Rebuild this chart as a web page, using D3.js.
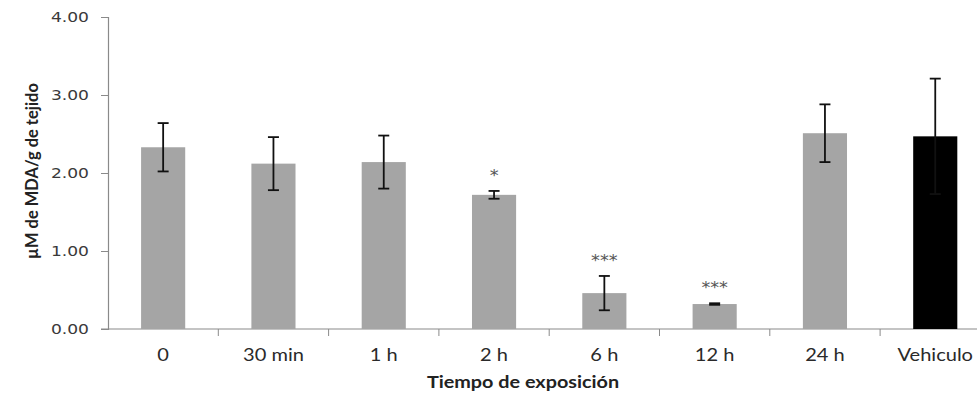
<!DOCTYPE html>
<html>
<head>
<meta charset="utf-8">
<script src="https://cdn.jsdelivr.net/npm/d3@7"></script>
<style>
  body { margin: 0; background: #fff; }
  svg { display: block; }
</style>
</head>
<body>
<div id="chart"></div>
<script>
// data
const categories = ["0", "30 min", "1 h", "2 h", "6 h", "12 h", "24 h", "Vehiculo"];
const means = [2.33, 2.12, 2.14, 1.72, 0.46, 0.32, 2.51, 2.47];
const errors = [0.31, 0.34, 0.34, 0.05, 0.22, 0.01, 0.37, 0.74];
const stars = ["", "", "", "*", "***", "***", "", ""];
const yTicks = [0, 1, 2, 3, 4];

const W = 977, H = 393;
const plotLeft = 108, plotTop = 17, plotBottom = 329;
const sx = 1.18; // the source picture is stretched sideways, so is its text

const svg = d3.select("#chart")
    .append("svg")
    .attr("width", W)
    .attr("height", H);

const x = d3.scaleBand()
    .domain(categories)
    .range([plotLeft, plotLeft + 8 * 110.3])
    .padding(0);

const y = d3.scaleLinear()
    .domain([0, 4])
    .range([plotBottom, plotTop]);

const barW = x.bandwidth() * 0.4;
const axisColor = "#8a8a8a";

function stretch(sel) {
    sel.each(function () {
        const t = d3.select(this);
        const x0 = +t.attr("x") || 0;
        t.attr("x", x0 / sx).attr("transform", `scale(${sx},1)`);
    });
}

// y axis
const yAxis = svg.append("g")
    .attr("transform", `translate(${plotLeft},0)`)
    .call(d3.axisLeft(y)
        .tickValues(yTicks)
        .tickFormat(d3.format(".2f"))
        .tickSize(7)
        .tickPadding(12));
yAxis.select(".domain").attr("stroke", axisColor).attr("stroke-width", 1.2);
yAxis.selectAll(".tick line").attr("stroke", axisColor);
yAxis.selectAll(".tick text")
    .attr("fill", "#3a3a3a")
    .style("font-family", "'DejaVu Sans', Verdana, sans-serif")
    .style("font-size", "14.5px")
    .call(stretch);

// x axis (labels at band centres, ticks at band boundaries)
const xAxis = svg.append("g")
    .attr("transform", `translate(0,${plotBottom})`)
    .call(d3.axisBottom(x).tickSize(0).tickPadding(20));
xAxis.select(".domain").remove();
xAxis.append("line")
    .attr("x1", plotLeft - 7).attr("x2", W)
    .attr("y1", 0).attr("y2", 0)
    .attr("stroke", axisColor).attr("stroke-width", 1.2);
xAxis.selectAll(".bnd")
    .data(categories.slice(1))
    .join("line")
    .attr("class", "bnd")
    .attr("x1", d => x(d)).attr("x2", d => x(d))
    .attr("y1", 0).attr("y2", 7)
    .attr("stroke", axisColor);
xAxis.selectAll(".tick text")
    .attr("fill", "#2a2a2a")
    .style("font-family", "Lato, 'Open Sans', sans-serif")
    .style("font-size", "17px")
    .call(stretch);

// bars
svg.selectAll(".bar")
    .data(categories)
    .join("rect")
    .attr("class", "bar")
    .attr("x", d => x(d) + (x.bandwidth() - barW) / 2)
    .attr("y", (d, i) => y(means[i]))
    .attr("width", barW)
    .attr("height", (d, i) => plotBottom - y(means[i]))
    .attr("fill", (d, i) => i === categories.length - 1 ? "#000" : "#a5a5a5");

// error bars
const eb = svg.selectAll(".err")
    .data(categories)
    .join("g")
    .attr("class", "err")
    .attr("stroke", "#111")
    .attr("stroke-width", 1.8);
const cx = d => x(d) + x.bandwidth() / 2;
eb.append("line")
    .attr("x1", cx).attr("x2", cx)
    .attr("y1", (d, i) => y(means[i] + errors[i]))
    .attr("y2", (d, i) => y(means[i] - errors[i]));
eb.append("line")
    .attr("x1", d => cx(d) - 5.5).attr("x2", d => cx(d) + 5.5)
    .attr("y1", (d, i) => y(means[i] + errors[i]))
    .attr("y2", (d, i) => y(means[i] + errors[i]));
eb.append("line")
    .attr("x1", d => cx(d) - 5.5).attr("x2", d => cx(d) + 5.5)
    .attr("y1", (d, i) => y(means[i] - errors[i]))
    .attr("y2", (d, i) => y(means[i] - errors[i]));

// significance stars
svg.selectAll(".star")
    .data(categories)
    .join("text")
    .attr("class", "star")
    .attr("transform", (d, i) => `translate(${cx(d)},${y(means[i] + errors[i]) - 10}) scale(${sx},1)`)
    .attr("text-anchor", "middle")
    .attr("fill", "#555")
    .style("font-family", "'DejaVu Sans', sans-serif")
    .style("font-size", "15px")
    .text((d, i) => stars[i]);

// axis titles
svg.append("text")
    .attr("transform", `translate(523,388) scale(1.2,1)`)
    .attr("text-anchor", "middle")
    .attr("fill", "#222")
    .style("font-family", "Lato, 'Open Sans', sans-serif")
    .style("font-weight", "bold")
    .style("font-size", "16.5px")
    .text("Tiempo de exposición");

svg.append("text")
    .attr("transform", `translate(37.5,171) rotate(-90)`)
    .attr("text-anchor", "middle")
    .attr("fill", "#222")
    .style("font-family", "Lato, 'Open Sans', sans-serif")
    .style("font-weight", "bold")
    .style("font-size", "16.5px")
    .text("µM de MDA/g de tejido");
</script>
</body>
</html>
